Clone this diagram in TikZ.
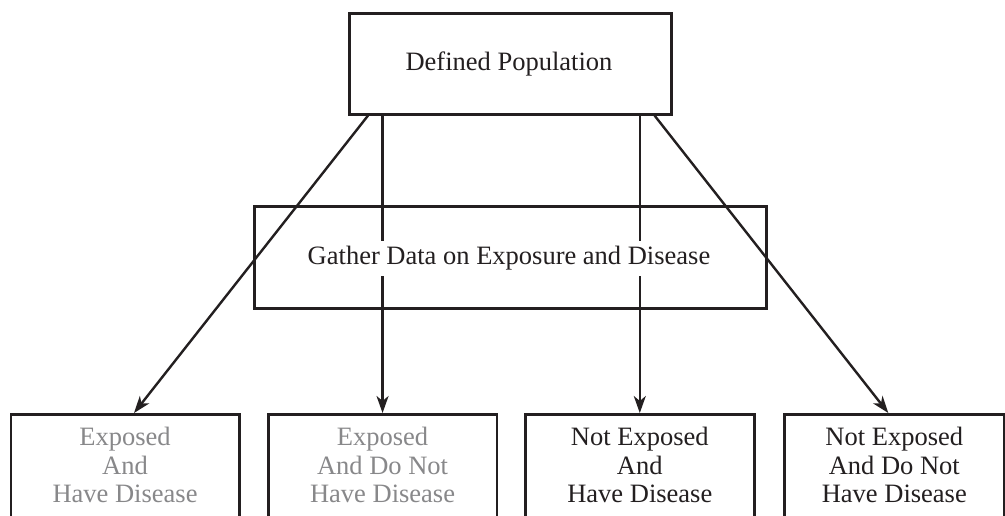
\documentclass[tikz,border=0pt]{standalone}
\usepackage{fontspec}
\setmainfont{Liberation Serif}
\usetikzlibrary{arrows.meta,calc}
\definecolor{ink}{HTML}{231F20}
\definecolor{faded}{HTML}{88888A}
\begin{document}
\begin{tikzpicture}[x=1pt,y=-1pt,
  box/.style={draw=ink,line width=2.6pt,inner sep=0pt,anchor=north west},
  caption/.style={font=\fontsize{26.5}{28.5}\selectfont,text=ink,align=center,inner sep=0pt},
  flow/.style={draw=ink,line width=2.4pt,-{Stealth[length=17pt,width=12pt,inset=5pt]}},
]
\useasboundingbox (0,0) rectangle (1005,516);
\fill[white] (0,0) rectangle (1005,516);
\begin{scope}
\clip (0,0) rectangle (1005,516);

% boxes
\node[box,minimum width=322pt,minimum height=101pt] (top) at (348,12) {};
\node[box,minimum width=512pt,minimum height=102pt] (mid) at (253,205) {};
\node[box,minimum width=228.5pt,minimum height=140pt] (b1) at (9.5,413) {};
\node[box,minimum width=228.5pt,minimum height=140pt] (b2) at (267,413) {};
\node[box,minimum width=229pt,minimum height=140pt] (b3) at (524,413) {};
\node[box,minimum width=220pt,minimum height=140pt] (b4) at (783,413) {};

% connectors from the population to the four groups
\draw[flow] ($(top.south west)+(20,0)$) -- ($(b1.north)+(9,0)$);
\draw[flow] (top.south -| b2.north) -- (b2.north);
\draw[flow] (top.south -| b3.north) -- (b3.north);
\draw[flow] ($(top.south east)+(-18,0)$) -- ($(b4.north)+(-6,0)$);

% texts
\node[caption,anchor=base] (toptext) at (509,71) {Defined Population};
\node[caption,anchor=base,fill=white,inner xsep=4pt,inner ysep=5.5pt] (midtext) at (509,265) {Gather Data on Exposure and Disease};
\node[caption,anchor=north,text=faded] (t1) at (b1.north |- 0,427) {Exposed\\And\\Have Disease};
\node[caption,anchor=north,text=faded] (t2) at (b2.north |- 0,427) {Exposed\\And Do Not\\Have Disease};
\node[caption,anchor=north] (t3) at (b3.north |- 0,427) {Not Exposed\\And\\Have Disease};
\node[caption,anchor=north] (t4) at (b4.north |- 0,427) {Not Exposed\\And Do Not\\Have Disease};
\end{scope}
\end{tikzpicture}
\end{document}
